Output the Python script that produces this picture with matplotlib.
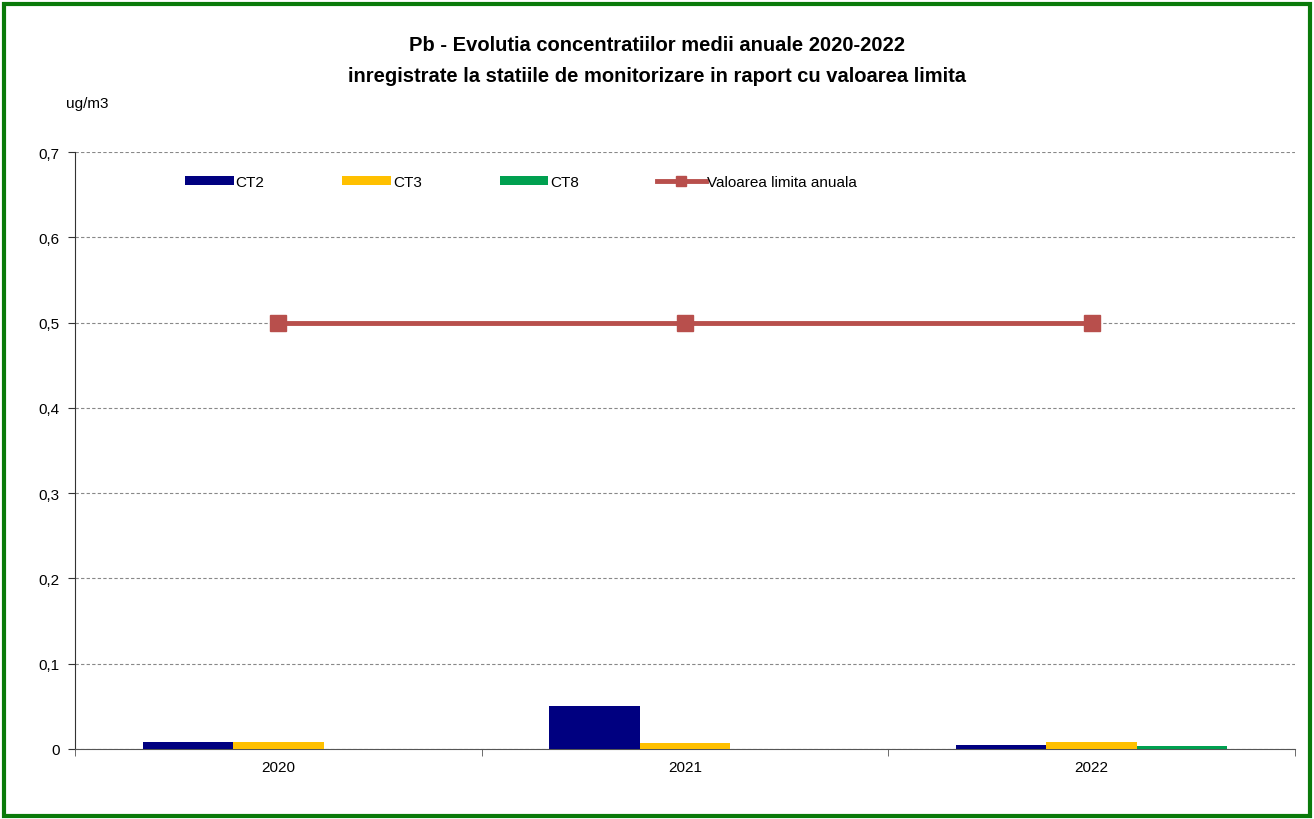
import numpy as np
import matplotlib
matplotlib.use('Agg')
from matplotlib import pyplot as plt
from matplotlib.patches import Rectangle
from matplotlib.lines import Line2D
from matplotlib.ticker import FuncFormatter

years = ['2020', '2021', '2022']
ct2 = [0.008, 0.050, 0.005]
ct3 = [0.008, 0.007, 0.008]
ct8 = [0.0, 0.0, 0.003]
limita = [0.5, 0.5, 0.5]

plt.rcParams['font.family'] = ['Liberation Sans', 'DejaVu Sans']

fig = plt.figure(figsize=(13.14, 8.2), dpi=100)
ax = fig.add_axes([0.0571, 0.0854, 0.9284, 0.728])

x = np.arange(len(years))
w = 1 / 4.5
b1 = ax.bar(x - w, ct2, w, color='#000080', label='CT2', zorder=3)
b2 = ax.bar(x, ct3, w, color='#FFC000', label='CT3', zorder=3)
b3 = ax.bar(x + w, ct8, w, color='#00A050', label='CT8', zorder=3)
ax.plot(x, limita, color='#B84F4C', lw=3.5, marker='s', markersize=11, zorder=4)
lim_handle = Line2D([], [], color='#B84F4C', lw=3.5, marker='s', markersize=7)

ax.set_xlim(-0.5, 2.5)
ax.set_ylim(0, 0.7)
ax.set_yticks(np.arange(0, 0.71, 0.1))
ax.yaxis.set_major_formatter(FuncFormatter(
    lambda v, p: '0' if abs(v) < 1e-9 else ('%.1f' % v).replace('.', ',')))
ax.set_xticks(x)
ax.set_xticklabels(years)
ax.set_xticks([-0.5, 0.5, 1.5, 2.5], minor=True)
ax.tick_params(axis='x', which='major', length=0, pad=8, labelsize=11)
ax.tick_params(axis='x', which='minor', length=5, direction='out', color='#555555')
ax.tick_params(axis='y', length=5, direction='out', labelsize=11, pad=6, color='#333333')
ax.grid(axis='y', linestyle=(0, (3, 2)), color='#888888', lw=0.8, zorder=0)
for s in ['top', 'right']:
    ax.spines[s].set_visible(False)
ax.spines['left'].set_color('#333333')
ax.spines['bottom'].set_color('#555555')

ax.legend([b1, b2, b3, lim_handle], ['CT2', 'CT3', 'CT8', 'Valoarea limita anuala'],
          loc='upper left', bbox_to_anchor=(0.079, 0.985), ncol=4, frameon=False,
          fontsize=11, handlelength=3.2, handletextpad=0.1, columnspacing=5.1,
          handleheight=0.5)

fig.text(0.5, 0.944, 'Pb - Evolutia concentratiilor medii anuale 2020-2022',
         ha='center', va='center', fontsize=14.5, fontweight='bold')
fig.text(0.5, 0.907, 'inregistrate la statiile de monitorizare in raport cu valoarea limita',
         ha='center', va='center', fontsize=14.5, fontweight='bold')
fig.text(0.05, 0.873, 'ug/m3', ha='left', va='center', fontsize=11)

fig.patches.append(Rectangle((0.003, 0.004), 0.994, 0.99, transform=fig.transFigure,
                             fill=False, edgecolor='#0A7A0A', lw=3))

fig.savefig('out.png', dpi=100)
